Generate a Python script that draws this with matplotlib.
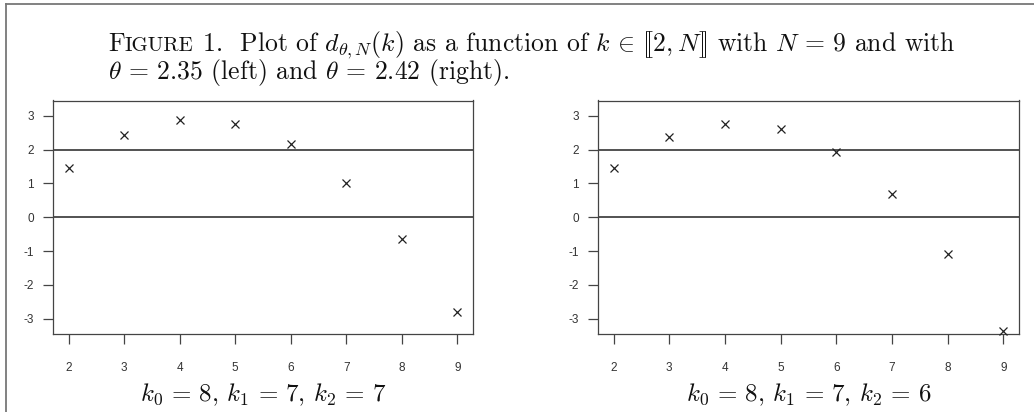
import matplotlib
matplotlib.use("Agg")
import matplotlib.pyplot as plt
from matplotlib.lines import Line2D
from matplotlib.offsetbox import TextArea, HPacker, AnnotationBbox

plt.rcParams['mathtext.fontset'] = 'cm'
plt.rcParams['axes.unicode_minus'] = False

# values
k = [2, 3, 4, 5, 6, 7, 8, 9]
d_left = [1.47, 2.43, 2.86, 2.77, 2.16, 1.02, -0.63, -2.81]
d_right = [1.46, 2.38, 2.76, 2.61, 1.92, 0.69, -1.08, -3.36]
y_ticks = [-3, -2, -1, 0, 1, 2, 3]
EQ = r"\,=\,"
captions = [rf"$k_0{EQ}8$, $k_1{EQ}7$, $k_2{EQ}7$",
            rf"$k_0{EQ}8$, $k_1{EQ}7$, $k_2{EQ}6$"]

W, H = 1034, 412
fig = plt.figure(figsize=(W / 100, H / 100), dpi=100)

GREY = '#444444'
TXT = dict(family='cmr10', size=18, color='#111111')


def panel(rect, values, caption):
    ax = fig.add_axes(rect)
    ax.axhline(0, color=GREY, lw=1.3, zorder=1)
    ax.axhline(2, color=GREY, lw=1.3, zorder=1)
    ax.plot(k, values, 'x', ms=6, mew=0.9, color='#222222', clip_on=False, zorder=3)
    ax.set_xlim(1.72, 9.28)
    ax.set_ylim(-3.45, 3.45)
    ax.set_xticks(k)
    ax.set_yticks(y_ticks)
    for s in ax.spines.values():
        s.set_color(GREY)
        s.set_linewidth(0.9)
    ax.tick_params(axis='x', length=7.2, width=0.9, pad=13, color=GREY,
                   labelsize=8.5, labelcolor='#333333')
    ax.tick_params(axis='y', length=7.2, width=0.9, pad=6.5, color=GREY,
                   labelsize=8.5, labelcolor='#333333')
    for lab in ax.get_xticklabels() + ax.get_yticklabels():
        lab.set_family('Liberation Sans')
    cx = rect[0] + rect[2] / 2
    fig.text(cx, 11 / H, caption, ha='center', va='baseline', **TXT)
    return ax


panel([53 / W, 78 / H, 420 / W, 233.5 / H], d_left, captions[0])
panel([598 / W, 78 / H, 421 / W, 233.5 / H], d_right, captions[1])

# caption of the figure, small caps faked with a smaller size
head = dict(TXT, size=18.5)
small = dict(TXT, size=15)
line1 = HPacker(children=[
    TextArea("F", textprops=head),
    TextArea("IGURE", textprops=small),
    TextArea(r" 1.  Plot of $d_{\theta,N}(k)$ as a function of $k\,\in\,[\![2,N]\!]$ "
             rf"with $N{EQ}9$ and with", textprops=head),
], align='baseline', pad=0, sep=0)
line2 = TextArea(rf"$\theta{EQ}2.35$ (left) and $\theta{EQ}2.42$ (right).", textprops=head)

for box, ytop in [(line1, 29), (line2, 57)]:
    ab = AnnotationBbox(box, (108, H - ytop), xycoords='figure pixels',
                        box_alignment=(0, 1), frameon=False, pad=0)
    fig.add_artist(ab)

# page frame (left and top edge only)
fig.add_artist(Line2D([5.5 / W, 5.5 / W], [0, 1 - 4 / H], color='#777777', lw=1.3))
fig.add_artist(Line2D([5.5 / W, 1], [1 - 4 / H, 1 - 4 / H], color='#777777', lw=1.3))

fig.savefig("out.png", dpi=100)
